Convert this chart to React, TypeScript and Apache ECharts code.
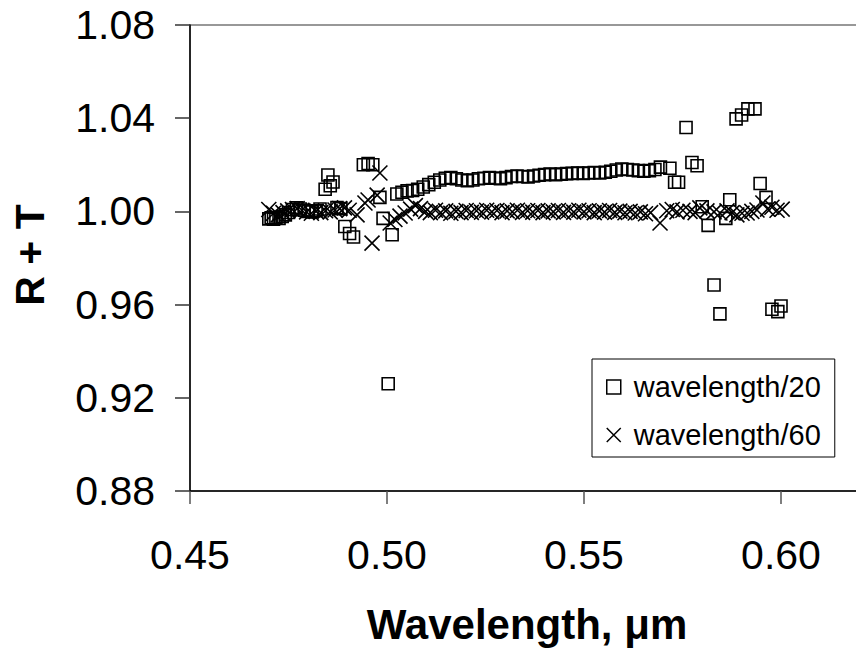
import React, { useEffect, useRef } from "react";
import * as echarts from "echarts";

const FONT = "'Liberation Sans', Arial, Helvetica, sans-serif";

const xTitle = "Wavelength, \u03bcm";
const yTitle = "R + T";
const seriesNames = ["wavelength/20", "wavelength/60"];

// wavelength/20 (squares)
const x20 = [
  0.4700, 0.4706, 0.4712, 0.4718, 0.4726, 0.4734, 0.4742, 0.4750, 0.4760, 0.4770,
  0.4780, 0.4790, 0.4800, 0.4810, 0.4820, 0.4830, 0.4843, 0.4850, 0.4856, 0.4863,
  0.4873, 0.4883, 0.4893, 0.4905, 0.4915, 0.4940, 0.4952, 0.4964, 0.4982, 0.4990,
  0.5003, 0.5013, 0.5025, 0.5038, 0.5051,
  0.5065, 0.5078, 0.5092, 0.5106, 0.5120, 0.5134, 0.5148, 0.5162, 0.5176, 0.5190,
  0.5204, 0.5218, 0.5232, 0.5246, 0.5260, 0.5274, 0.5288, 0.5302, 0.5316, 0.5330,
  0.5344, 0.5358, 0.5372, 0.5386, 0.5400, 0.5414, 0.5428, 0.5442, 0.5456, 0.5470,
  0.5484, 0.5498, 0.5512, 0.5526, 0.5540, 0.5554, 0.5568, 0.5582, 0.5596, 0.5610,
  0.5624, 0.5638, 0.5652, 0.5666, 0.5680, 0.5694, 0.5718, 0.5730, 0.5740, 0.5759,
  0.5774, 0.5787, 0.5800, 0.5815, 0.5830, 0.5845, 0.5860, 0.5870, 0.5886, 0.5900,
  0.5916, 0.5934, 0.5947, 0.5962, 0.5977, 0.5992, 0.6000,
];
const y20 = [
  0.9968, 0.9972, 0.9966, 0.9974, 0.9970, 0.9978, 0.9985, 0.9995, 1.0008, 1.0015,
  1.0010, 1.0005, 1.0000, 0.9998, 1.0003, 1.0010, 1.0095, 1.0156, 1.0110, 1.0126,
  1.0017, 1.0012, 0.9935, 0.9905, 0.9890, 1.0200, 1.0205, 1.0200, 1.0060, 0.9970,
  0.9260, 0.9900, 1.0075, 1.0082, 1.0088,
  1.0090, 1.0095, 1.0105, 1.0115, 1.0125, 1.0135, 1.0142, 1.0145, 1.0140, 1.0135,
  1.0132, 1.0135, 1.0140, 1.0142, 1.0145, 1.0143, 1.0140, 1.0145, 1.0150, 1.0152,
  1.0150, 1.0148, 1.0152, 1.0155, 1.0158, 1.0160, 1.0158, 1.0160, 1.0162, 1.0163,
  1.0165, 1.0163, 1.0165, 1.0167, 1.0165, 1.0168, 1.0172, 1.0178, 1.0182, 1.0180,
  1.0178, 1.0175, 1.0172, 1.0175, 1.0180, 1.0190, 1.0185, 1.0125, 1.0125, 1.0360,
  1.0210, 1.0196, 1.0020, 0.9940, 0.9684, 0.9560, 0.9970, 1.0050, 1.0397, 1.0414,
  1.0440, 1.0440, 1.0120, 1.0060, 0.9580, 0.9570, 0.9594,
];

// wavelength/60 (crosses)
const x60 = [
  0.4700, 0.4712, 0.4724, 0.4736, 0.4748, 0.4760, 0.4772, 0.4784, 0.4796, 0.4808,
  0.4820, 0.4832, 0.4844, 0.4856, 0.4868, 0.4880, 0.4892, 0.4904, 0.4924, 0.4944,
  0.4952, 0.4962, 0.4975, 0.4982, 0.5008, 0.5020, 0.5033, 0.5046, 0.5060, 0.5072,
  0.5085, 0.5098, 0.5110,
  0.5123, 0.5136, 0.5149, 0.5162, 0.5175, 0.5188, 0.5201, 0.5214, 0.5227, 0.5240,
  0.5253, 0.5266, 0.5279, 0.5292, 0.5305, 0.5318, 0.5331, 0.5344, 0.5357, 0.5370,
  0.5383, 0.5396, 0.5409, 0.5422, 0.5435, 0.5448, 0.5461, 0.5474, 0.5487, 0.5500,
  0.5513, 0.5526, 0.5539, 0.5552, 0.5565, 0.5578, 0.5591, 0.5604, 0.5617, 0.5630,
  0.5643, 0.5656, 0.5669, 0.5693, 0.5710, 0.5724, 0.5736, 0.5751, 0.5769, 0.5782,
  0.5794, 0.5812, 0.5830, 0.5845, 0.5863, 0.5876, 0.5888, 0.5901, 0.5914, 0.5926,
  0.5939, 0.5954, 0.5966, 0.5977, 0.5990, 0.6003,
];
const y60 = [
  1.0008, 0.9992, 0.9985, 0.9995, 1.0002, 1.0008, 1.0012, 1.0005, 0.9998, 0.9992,
  1.0000, 0.9995, 1.0003, 0.9998, 1.0006, 1.0012, 1.0015, 1.0005, 0.9985, 1.0036,
  1.0049, 0.9864, 1.0070, 1.0165, 0.9950, 0.9965, 0.9980, 0.9993, 1.0010, 1.0025,
  1.0012, 1.0000, 0.9995,
  1.0005, 0.9995, 1.0002, 0.9992, 1.0000, 0.9995, 1.0004, 0.9996, 1.0003, 0.9997,
  1.0005, 0.9998, 1.0004, 0.9995, 1.0002, 0.9998, 1.0005, 0.9996, 1.0003, 0.9997,
  1.0004, 0.9995, 1.0002, 0.9998, 1.0004, 0.9996, 1.0003, 0.9997, 1.0005, 0.9998,
  1.0003, 0.9995, 1.0002, 0.9997, 1.0004, 0.9996, 1.0001, 0.9994, 1.0000, 0.9993,
  0.9998, 0.9990, 0.9995, 0.9950, 1.0003, 1.0008, 0.9998, 1.0005, 1.0000, 0.9995,
  1.0015, 1.0002, 0.9998, 0.9993, 1.0002, 0.9995, 0.9985, 0.9992, 0.9993, 1.0000,
  1.0006, 1.0036, 1.0010, 1.0018, 1.0005, 1.0010,
];

const xMin = 0.45;
const xMax = 0.65;
const xStep = 0.05;
const yMin = 0.88;
const yMax = 1.08;
const yStep = 0.04;

const CROSS = "path://M0,0L10,10M10,0L0,10";
const SQUARE = "path://M0,0L10,0L10,10L0,10Z";

export default function App() {
  const ref = useRef<HTMLDivElement>(null);
  useEffect(() => {
    document.body.style.margin = "0";
    if (!ref.current) return;
    const chart = echarts.init(ref.current, null, { renderer: "svg" });
    const d20 = x20.map((x, i) => [x, y20[i]]);
    const d60 = x60.map((x, i) => [x, y60[i]]);
    chart.setOption({
      animation: false,
      backgroundColor: "#ffffff",
      textStyle: { fontFamily: FONT },
      grid: {
        left: 190,
        top: 25,
        width: 788,
        height: 466,
        show: true,
        borderColor: "#777777",
        borderWidth: 1.5,
        backgroundColor: "transparent",
        outerBoundsMode: "none",
      },
      xAxis: {
        type: "value",
        min: xMin,
        max: xMax,
        interval: xStep,
        axisLine: { show: true, onZero: false, lineStyle: { color: "#000", width: 1.5 } },
        axisTick: { show: true, inside: false, length: 13, lineStyle: { color: "#555", width: 1.5 } },
        axisLabel: {
          margin: 43,
          fontSize: 41,
          color: "#000",
          fontFamily: FONT,
          formatter: (v: number) => (v > 0.62 ? "" : v.toFixed(2)),
        },
        splitLine: { show: false },
      },
      yAxis: {
        type: "value",
        min: yMin,
        max: yMax,
        interval: yStep,
        axisLine: { show: true, onZero: false, lineStyle: { color: "#000", width: 1.5 } },
        axisTick: { show: true, inside: false, length: 15, lineStyle: { color: "#333", width: 1.5 } },
        axisLabel: {
          margin: 35,
          fontSize: 41,
          color: "#000",
          fontFamily: FONT,
          formatter: (v: number) => v.toFixed(2),
        },
        splitLine: { show: false },
      },
      legend: {
        left: 592,
        top: 359,
        orient: "vertical",
        padding: [13, 14, 7, 14],
        itemGap: 18,
        itemWidth: 14,
        itemHeight: 14,
        borderColor: "#000",
        borderWidth: 1,
        backgroundColor: "#fff",
        selectedMode: false,
        textStyle: {
          fontSize: 29,
          color: "#000",
          fontFamily: FONT,
          lineHeight: 30,
          padding: [0, 0, 0, 8],
        },
        data: [
          { name: seriesNames[0], icon: SQUARE, itemStyle: { color: "transparent", borderColor: "#000", borderWidth: 1.5 } },
          { name: seriesNames[1], icon: CROSS, itemStyle: { color: "transparent", borderColor: "#000", borderWidth: 1.5 } },
        ],
      },
      graphic: [
        {
          type: "text",
          x: 527,
          y: 624,
          style: {
            text: xTitle,
            fill: "#000",
            font: `bold 42px ${FONT}`,
            align: "center",
            verticalAlign: "middle",
          },
        },
        {
          type: "text",
          x: 30,
          y: 255,
          rotation: Math.PI / 2,
          style: {
            text: yTitle,
            fill: "#000",
            font: `bold 41px ${FONT}`,
            align: "center",
            verticalAlign: "middle",
          },
        },
      ],
      series: [
        {
          name: seriesNames[0],
          type: "scatter",
          symbol: "rect",
          symbolSize: 12,
          data: d20,
          itemStyle: { color: "transparent", borderColor: "#000", borderWidth: 1.6, opacity: 1 },
          emphasis: { disabled: true },
        },
        {
          name: seriesNames[1],
          type: "scatter",
          symbol: CROSS,
          symbolSize: 15,
          data: d60,
          itemStyle: { color: "transparent", borderColor: "#000", borderWidth: 1.6, opacity: 1 },
          emphasis: { disabled: true },
        },
      ],
    });
    return () => chart.dispose();
  }, []);
  return (
    <div style={{ position: "absolute", left: 0, top: 0, width: 856, height: 654, overflow: "hidden" }}>
      <div ref={ref} style={{ position: "absolute", left: 0, top: 0, width: 1000, height: 654 }} />
    </div>
  );
}
